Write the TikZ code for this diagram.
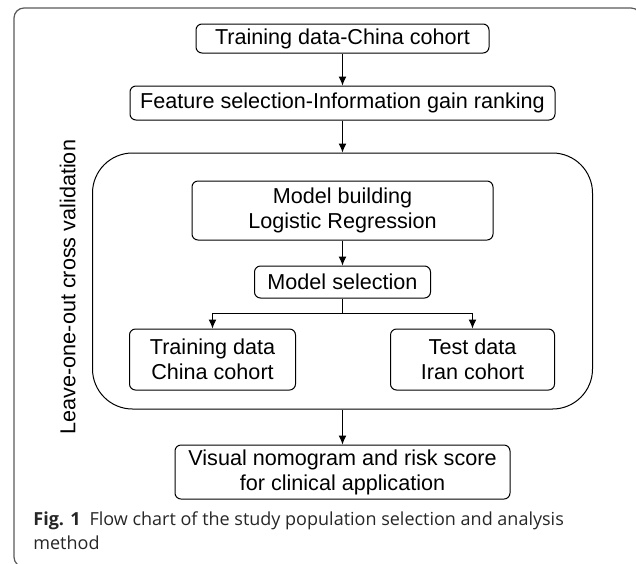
\documentclass[tikz,border=0pt]{standalone}
\usepackage{fontspec}
\setmainfont{Liberation Sans}
\newfontfamily\capfont{Open Sans}
\usetikzlibrary{arrows.meta,positioning,calc}
\tikzset{
  % Flow box: rounded corners, centred label
  flowbox/.style={draw, rectangle, rounded corners=3pt, line width=0.5pt,
                  align=center, inner sep=2pt, font=\fontsize{10.8}{12.5}\selectfont},
  flowbox-two/.style={flowbox, minimum height=29.5pt},
  % Cross-validation enclosure
  cvframe/.style={draw, rectangle, rounded corners=20pt, line width=0.5pt},
  % Outer figure frame
  pageframe/.style={draw=black!65, line width=0.6pt, rounded corners=5pt},
  % Arrows
  flowarr/.style={-{Latex[length=4.5pt,width=4pt]}, line width=0.5pt},
  flowline/.style={line width=0.5pt},
  % Side label and caption
  vlabel/.style={rotate=90, font=\fontsize{10.8}{12.5}\selectfont, inner sep=0pt},
  figcap/.style={font=\capfont\fontsize{9}{12}\selectfont, align=left,
                 anchor=north west, inner sep=0pt, text=black!85}
}
\begin{document}
\begin{tikzpicture}[x=0.5pt, y=-0.5pt, node distance=16pt]
\useasboundingbox (0,0) rectangle (636,563);
\draw[pageframe] (14,8) rectangle (641,567);

% Vertical flow: training data -> feature selection -> cross validation block -> nomogram
\node[flowbox, minimum width=146.5pt, minimum height=14.5pt] (chinadata) at (342.5,38.5) {Training data-China cohort};
\node[flowbox, below=16pt of chinadata, minimum width=212.5pt, minimum height=17pt] (featsel)
  {Feature selection-Information gain ranking};
\node[cvframe, below=16pt of featsel, minimum width=250pt, minimum height=128pt] (cv) {};
\node[flowbox-two, below=14pt of cv.north, minimum width=150.5pt] (modelbuild)
  {Model building\\Logistic Regression};
\node[flowbox, below=12.5pt of modelbuild, minimum width=88pt, minimum height=16pt] (modelsel)
  {Model selection};
\coordinate[below=7.5pt of modelsel.south] (split);
\node[flowbox-two, below=15pt of modelsel.south, xshift=-65pt, minimum width=83pt, minimum height=30.5pt] (trainset)
  {Training data\\China cohort};
\node[flowbox-two, below=15pt of modelsel.south, xshift=65pt, minimum width=82pt, minimum height=30.5pt] (testset)
  {Test data\\Iran cohort};
\node[flowbox-two, below=17.5pt of cv, minimum width=167.5pt, minimum height=27pt] (nomo)
  {Visual nomogram and risk score\\for clinical application};

\node[vlabel, anchor=south] (cvlabel) at ([xshift=-8pt, yshift=-3pt]cv.west) {Leave-one-out cross validation};

% Arrows
\draw[flowarr] (chinadata.south) -- (featsel.north);
\draw[flowarr] (featsel.south) -- (cv.north);
\draw[flowarr] (modelbuild.south) -- (modelsel.north);
\draw[flowline] (modelsel.south) -- (split);
\draw[flowarr] (split) -| (trainset.north);
\draw[flowarr] (split) -| (testset.north);
\draw[flowarr] (cv.south) -- (nomo.north);

% Caption
\node[figcap] (caption) at (33,511)
  {\textbf{Fig. 1}\enspace Flow chart of the study population selection and analysis\\method};
\end{tikzpicture}
\end{document}
